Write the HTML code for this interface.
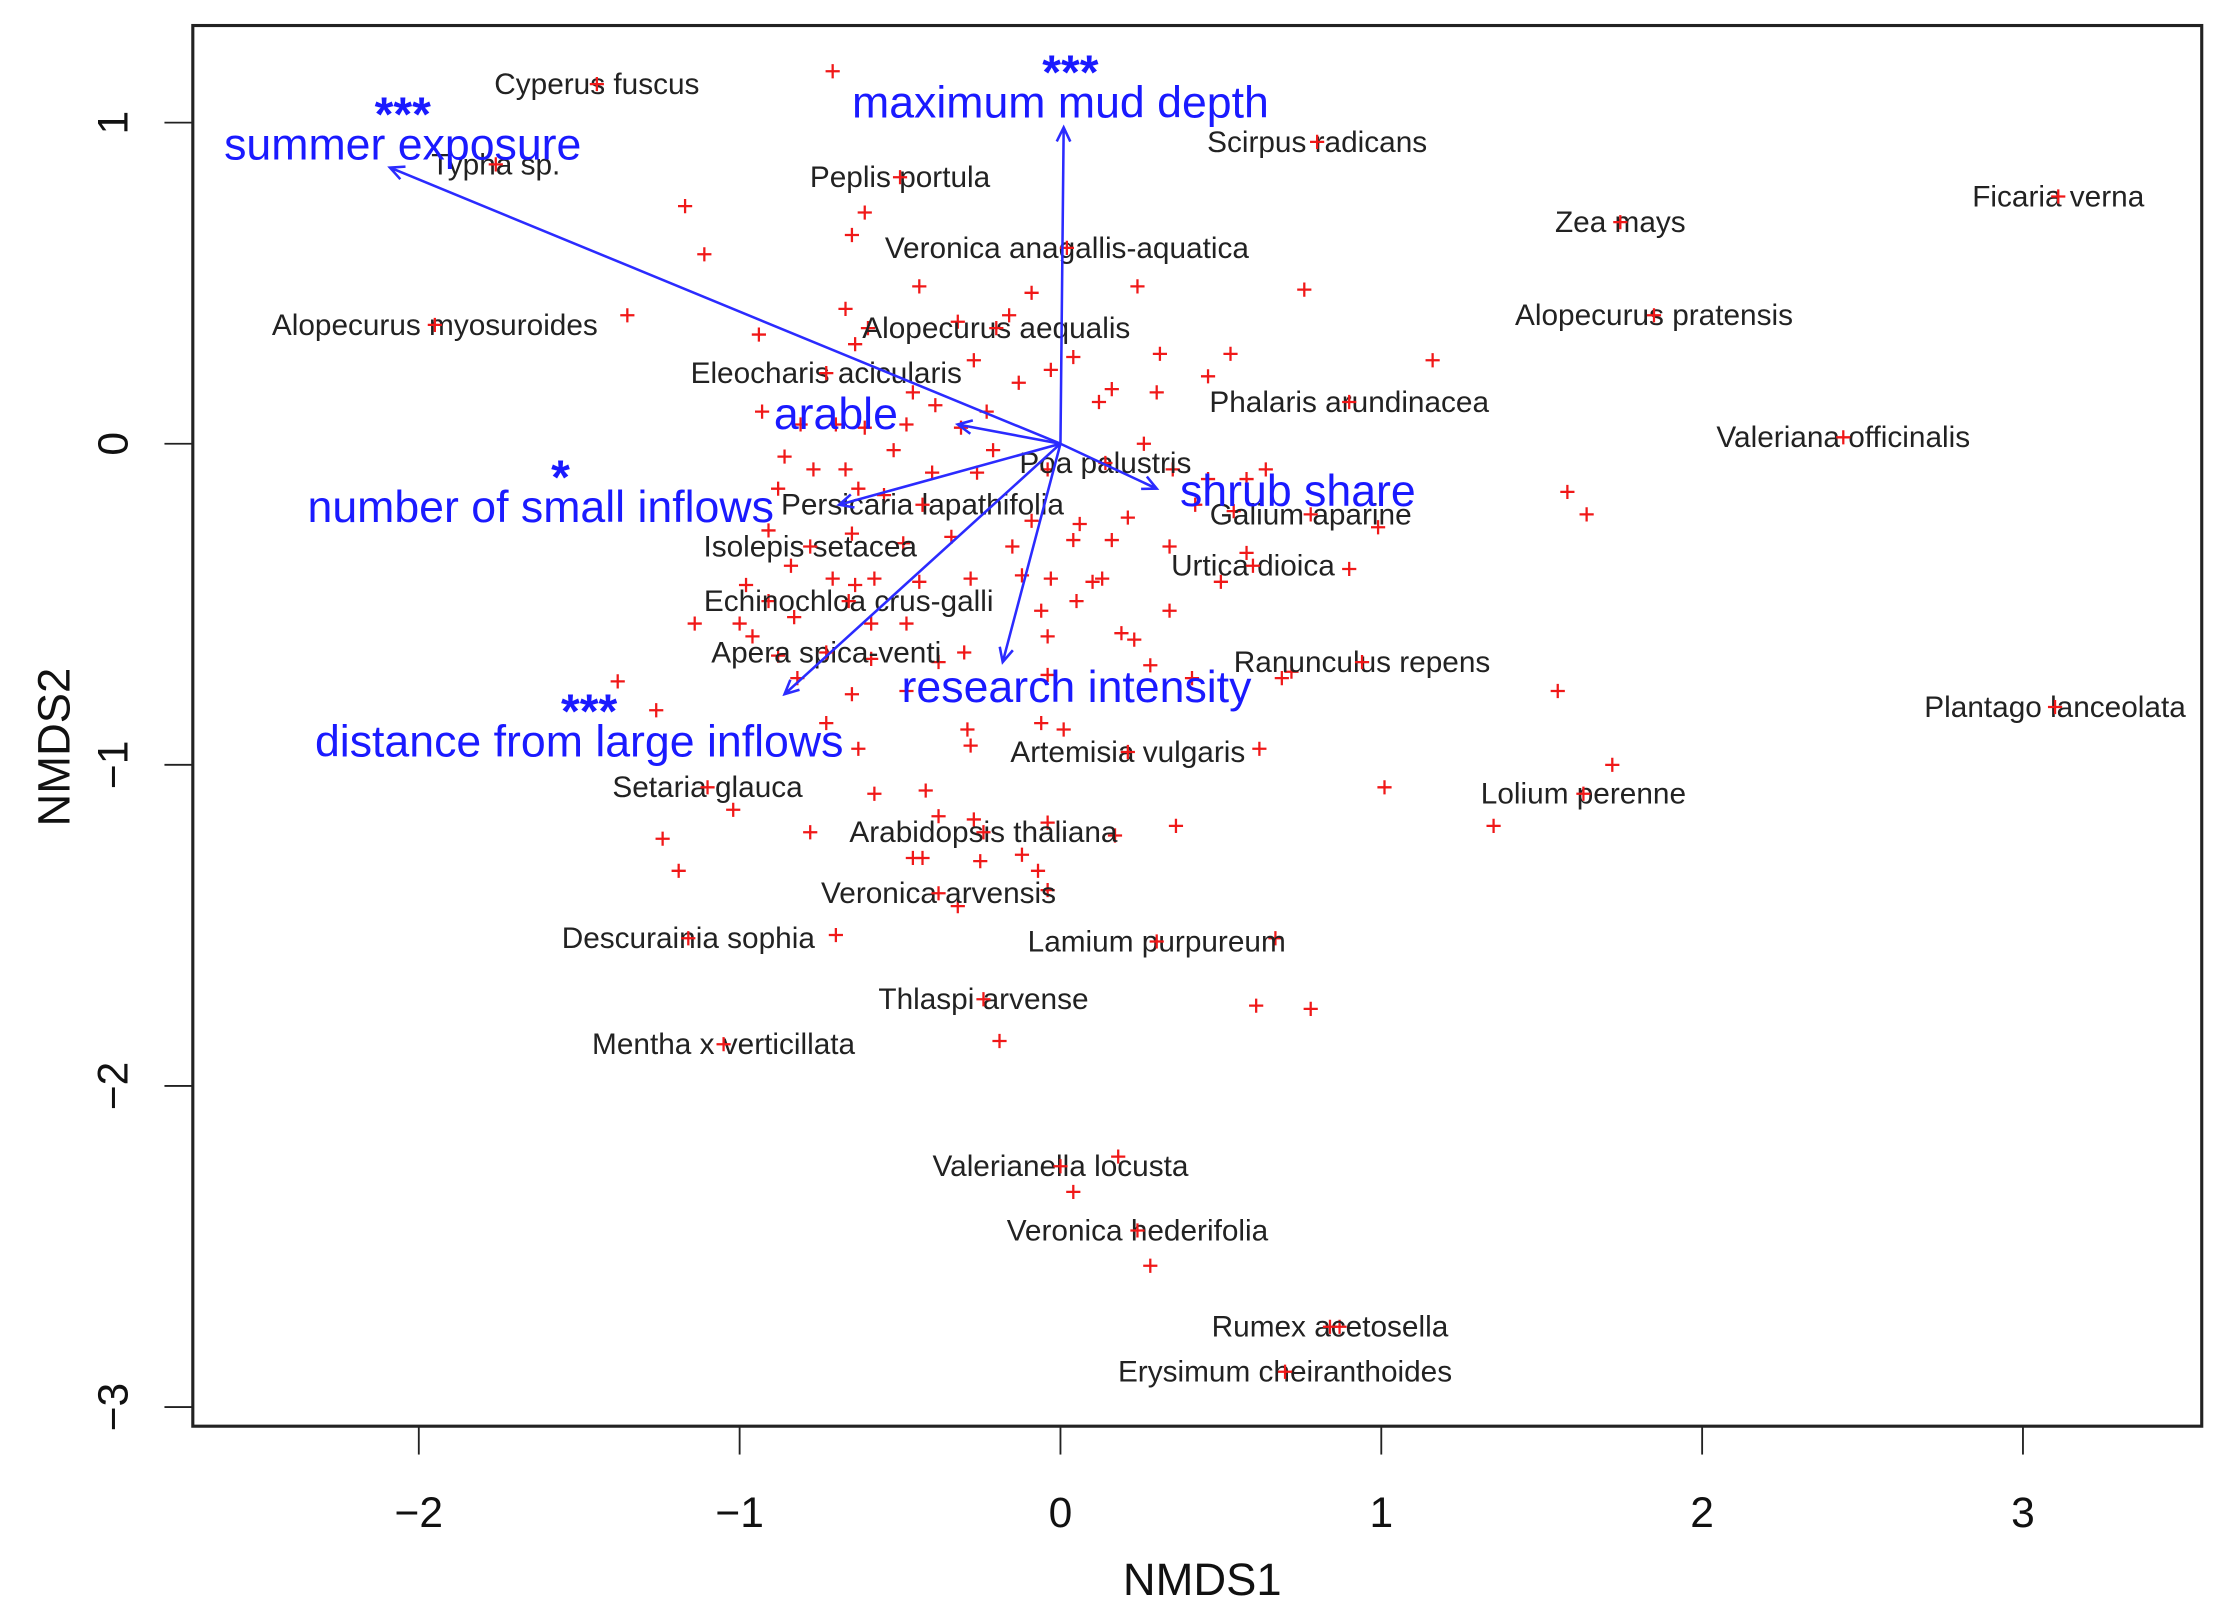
<!DOCTYPE html>
<html><head><meta charset="utf-8"><style>html,body{margin:0;padding:0;background:#fff}svg{display:block}</style></head>
<body>
<svg id="chart" width="2223" height="1619" viewBox="0 0 1568 1142" preserveAspectRatio="none" xmlns="http://www.w3.org/2000/svg" font-family="Liberation Sans, sans-serif"></svg>
<script>
const speciesNames=["Cyperus fuscus","Typha sp.","Peplis portula","Scirpus radicans","Zea mays","Ficaria verna","Veronica anagallis-aquatica","Alopecurus myosuroides","Alopecurus aequalis","Alopecurus pratensis","Eleocharis acicularis","Phalaris arundinacea","Valeriana officinalis","Poa palustris","Persicaria lapathifolia","Galium aparine","Isolepis setacea","Urtica dioica","Echinochloa crus-galli","Apera spica-venti","Ranunculus repens","Plantago lanceolata","Artemisia vulgaris","Setaria glauca","Lolium perenne","Arabidopsis thaliana","Veronica arvensis","Descurainia sophia","Lamium purpureum","Thlaspi arvense","Mentha x verticillata","Valerianella locusta","Veronica hederifolia","Rumex acetosella","Erysimum cheiranthoides"];
const speciesX=[-1.445,-1.76,-0.50,0.80,1.745,3.11,0.02,-1.95,-0.20,1.85,-0.73,0.90,2.44,0.14,-0.43,0.78,-0.78,0.60,-0.66,-0.73,0.94,3.10,0.21,-1.10,1.63,-0.24,-0.38,-1.16,0.30,-0.24,-1.05,0.0,0.24,0.84,0.70];
const speciesY=[1.12,0.87,0.83,0.94,0.69,0.77,0.61,0.37,0.36,0.40,0.22,0.13,0.02,-0.06,-0.19,-0.22,-0.32,-0.38,-0.49,-0.65,-0.68,-0.82,-0.96,-1.07,-1.09,-1.21,-1.40,-1.54,-1.55,-1.73,-1.87,-2.25,-2.45,-2.75,-2.89];
const siteX=[-0.71,-1.17,-1.11,-0.61,-0.65,-1.35,-0.94,-0.67,-0.60,-0.64,-0.44,-0.32,-0.16,-0.09,0.24,0.76,0.31,0.53,0.46,1.16,-0.03,0.04,-0.27,-0.13,0.12,0.16,0.30,-0.46,-0.39,-0.23,-0.93,-0.81,-0.70,-0.61,-0.48,-0.31,-0.52,-0.21,-0.77,-0.86,-0.67,-0.40,-0.26,-0.04,0.26,0.35,0.46,0.58,0.64,-0.88,-0.63,-0.55,-0.09,0.06,0.21,0.42,0.54,0.99,1.58,1.64,-0.91,-0.65,-0.49,-0.34,-0.15,0.04,0.16,0.34,0.58,-0.84,-0.71,-0.64,-0.58,-0.44,-0.28,-0.12,-0.03,0.10,0.13,0.50,0.90,-0.98,-1.14,-1.00,-0.91,-0.83,-0.59,-0.48,-0.06,0.05,0.34,-0.96,-0.88,-0.59,-0.30,-0.04,0.19,0.23,-1.38,-1.26,-0.82,-0.65,-0.48,-0.38,-0.04,0.28,0.41,0.69,0.72,1.55,-0.73,-0.63,-0.29,-0.28,-0.06,0.01,0.62,1.72,1.01,-1.02,-0.78,-0.58,-0.42,-0.38,-0.27,-0.04,0.17,0.36,1.35,-1.24,-1.19,-0.46,-0.43,-0.25,-0.12,-0.07,-0.32,-0.04,-0.70,0.67,0.61,0.78,-0.19,0.18,0.04,0.28,0.87];
const siteY=[1.16,0.74,0.59,0.72,0.65,0.40,0.34,0.42,0.36,0.31,0.49,0.38,0.40,0.47,0.49,0.48,0.28,0.28,0.21,0.26,0.23,0.27,0.26,0.19,0.13,0.17,0.16,0.16,0.12,0.10,0.10,0.06,0.06,0.05,0.06,0.05,-0.02,-0.02,-0.08,-0.04,-0.08,-0.09,-0.09,-0.08,0.0,-0.08,-0.11,-0.11,-0.08,-0.14,-0.14,-0.16,-0.24,-0.25,-0.23,-0.19,-0.21,-0.26,-0.15,-0.22,-0.27,-0.28,-0.31,-0.29,-0.32,-0.30,-0.30,-0.32,-0.34,-0.38,-0.42,-0.44,-0.42,-0.43,-0.42,-0.41,-0.42,-0.43,-0.42,-0.43,-0.39,-0.44,-0.56,-0.56,-0.49,-0.54,-0.56,-0.56,-0.52,-0.49,-0.52,-0.60,-0.66,-0.67,-0.65,-0.60,-0.59,-0.61,-0.74,-0.83,-0.73,-0.78,-0.77,-0.68,-0.72,-0.69,-0.73,-0.73,-0.71,-0.77,-0.87,-0.95,-0.89,-0.94,-0.87,-0.89,-0.95,-1.00,-1.07,-1.14,-1.21,-1.09,-1.08,-1.16,-1.17,-1.18,-1.22,-1.19,-1.19,-1.23,-1.33,-1.29,-1.29,-1.30,-1.28,-1.33,-1.44,-1.39,-1.53,-1.54,-1.75,-1.76,-1.86,-2.22,-2.33,-2.56,-2.75];
const vectorNames=["summer exposure","maximum mud depth","arable","shrub share","number of small inflows","distance from large inflows","research intensity"];
const vectorX=[-2.09,0.01,-0.32,0.30,-0.69,-0.86,-0.18];
const vectorY=[0.86,0.985,0.06,-0.14,-0.19,-0.78,-0.68];
const vectorSig=["***","***","","","*","***",""];
const vectorLabelX=[-2.05,0.0,-0.70,0.74,-1.62,-1.50,0.05];
const vectorLabelY=[0.93,1.06,0.09,-0.15,-0.20,-0.93,-0.76];
const xTicks=[-2,-1,0,1,2,3];
const yTicks=[1,0,-1,-2,-3];

const svg=document.getElementById('chart');
const NS='http://www.w3.org/2000/svg';
const X0=748,XS=226.3,Y0=313,YS=226.5;
const sx=v=>X0+v*XS, sy=v=>Y0-v*YS;
function mk(tag,at,parent){const e=document.createElementNS(NS,tag);for(const k in at)e.setAttribute(k,at[k]);(parent||svg).appendChild(e);return e;}

let e;
e=mk('rect',{x:136,y:18,width:1417,height:988,fill:'none',stroke:'#222','stroke-width':2.2});


xTicks.forEach(t=>{
  e=mk('line',{x1:sx(t),x2:sx(t),y1:1006,y2:1026,stroke:'#222','stroke-width':1.3});
  
  
  e=mk('text',{x:sx(t),y:1077,'font-size':30,'text-anchor':'middle',fill:'#111'});
  e.textContent=t<0?'\u2212'+(-t):String(t);
  
  
});
yTicks.forEach(t=>{
  e=mk('line',{x1:116,x2:136,y1:sy(t),y2:sy(t),stroke:'#222','stroke-width':1.3});
  
  
  e=mk('text',{x:0,y:0,'font-size':30,'text-anchor':'middle',fill:'#111',transform:`translate(90,${sy(t)}) rotate(-90)`});
  e.textContent=t<0?'\u2212'+(-t):String(t);
  
  
});
e=mk('text',{x:848,y:1125,'font-size':32,'text-anchor':'middle',fill:'#111'});
e.textContent='NMDS1';


e=mk('text',{x:0,y:0,'font-size':32,'text-anchor':'middle',fill:'#111',transform:'translate(49,527) rotate(-90)'});
e.textContent='NMDS2';



function plus(x,y,name){
  const g=mk('path',{d:`M${x-5},${y}H${x+5}M${x},${y-5}V${y+5}`,stroke:'#f01818','stroke-width':1.6,fill:'none'});
  
  
}
siteX.forEach((v,i)=>plus(sx(v),sy(siteY[i]),'site-point'));
speciesNames.forEach((n,i)=>{
  e=mk('text',{x:sx(speciesX[i]),y:sy(speciesY[i])+7,'font-size':21,'text-anchor':'middle',fill:'#222'});
  e.textContent=n;
  
  
  plus(sx(speciesX[i]),sy(speciesY[i]),'species-point');
});
vectorNames.forEach((n,i)=>{
  const x1=sx(0),y1=sy(0),x2=sx(vectorX[i]),y2=sy(vectorY[i]);
  const a=Math.atan2(y2-y1,x2-x1),h=11,s=0.45;
  e=mk('path',{d:`M${x1},${y1}L${x2},${y2}M${x2-h*Math.cos(a-s)},${y2-h*Math.sin(a-s)}L${x2},${y2}L${x2-h*Math.cos(a+s)},${y2-h*Math.sin(a+s)}`,stroke:'#2b2bff','stroke-width':1.8,fill:'none'});
  
  
  const lx=sx(vectorLabelX[i]),ly=sy(vectorLabelY[i]);
  e=mk('text',{x:lx,y:ly+10,'font-size':31.5,'text-anchor':'middle',fill:'#1a1aff'});
  e.textContent=n;
  
  
  if(vectorSig[i]){
    e=mk('text',{x:lx+(i===4?14:0)+(i===1?7:0)+(i===5?7:0),y:ly-10,'font-size':34,'font-weight':'bold','text-anchor':'middle',fill:'#1a1aff'});
    e.textContent=vectorSig[i];
    
    
  }
});
</script>
</body></html>
